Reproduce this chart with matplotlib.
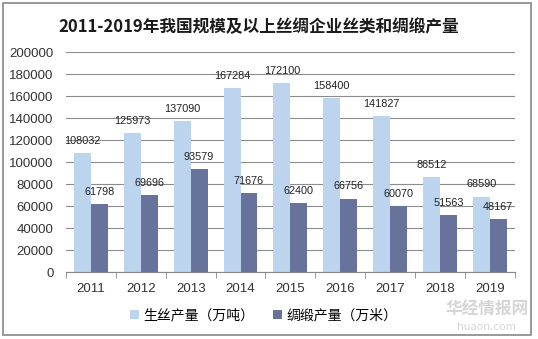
import numpy as np
import matplotlib.pyplot as plt
from matplotlib.patches import Rectangle

plt.rcParams['font.family'] = ['Noto Sans CJK SC', 'DejaVu Sans']

years = ['2011', '2012', '2013', '2014', '2015', '2016', '2017', '2018', '2019']
silk = [108032, 125973, 137090, 167284, 172100, 158400, 141827, 86512, 68590]
satin = [61798, 69696, 93579, 71676, 62400, 66756, 60070, 51563, 48167]

c_silk = '#BCD4EE'
c_satin = '#67739A'

fig = plt.figure(figsize=(5.38, 3.39), dpi=100)
ax = fig.add_axes([0.1227, 0.1976, 0.834, 0.649])

x = np.arange(len(years))
w = 0.34
b1 = ax.bar(x - w / 2, silk, w, color=c_silk, label='生丝产量（万吨）', zorder=2)
b2 = ax.bar(x + w / 2, satin, w, color=c_satin, label='绸缎产量（万米）', zorder=2)

for bars, vals in [(b1, silk), (b2, satin)]:
    for rect, v in zip(bars, vals):
        ax.text(rect.get_x() + rect.get_width() / 2, v + 6500, str(v),
                ha='center', va='bottom', fontsize=7.8, color='#222222',
                family='Liberation Sans')

ax.set_xlim(-0.5, len(years) - 0.5)
ax.set_ylim(0, 200000)
ax.set_yticks(np.arange(0, 200001, 20000))
ax.tick_params(axis='y', length=0, labelsize=9.5, pad=9, colors='#333333')
ax.set_xticks(x)
ax.set_xticklabels(years)
ax.tick_params(axis='x', length=0, labelsize=9.5, pad=8, colors='#333333')
for lab in ax.get_xticklabels() + ax.get_yticklabels():
    lab.set_family('Liberation Sans')
ax.set_xticks(np.arange(-0.5, len(years)), minor=True)
ax.tick_params(axis='x', which='minor', length=4, color='#888888', direction='out')
ax.grid(axis='y', color='#8C8C8C', linewidth=0.8, zorder=0)

for s in ['top', 'right', 'left']:
    ax.spines[s].set_visible(False)
ax.spines['bottom'].set_color('#888888')

fig.legend(handles=[b1, b2], loc='center', bbox_to_anchor=(0.49, 0.07), ncol=2,
           frameon=False, fontsize=10, handlelength=0.7, handleheight=0.7,
           columnspacing=1.3, handletextpad=0.3)

fig.text(0.48, 0.92, '2011-2019年我国规模及以上丝绸企业丝类和绸缎产量',
         ha='center', va='center', fontsize=12, fontweight='bold', color='#1a1a1a')

# 水印
fig.text(0.905, 0.085, '华经情报网', ha='center', va='center', fontsize=12,
         color='#c4c4c4', alpha=0.7, fontweight='bold')
fig.text(0.905, 0.035, 'huaon.com', ha='center', va='center', fontsize=8,
         color='#c4c4c4', alpha=0.7)

fig.patches.append(Rectangle((0.005, 0.012), 0.982, 0.98, transform=fig.transFigure,
                             fill=False, edgecolor='#888888', linewidth=1.2))

fig.savefig('out.png', dpi=100)
